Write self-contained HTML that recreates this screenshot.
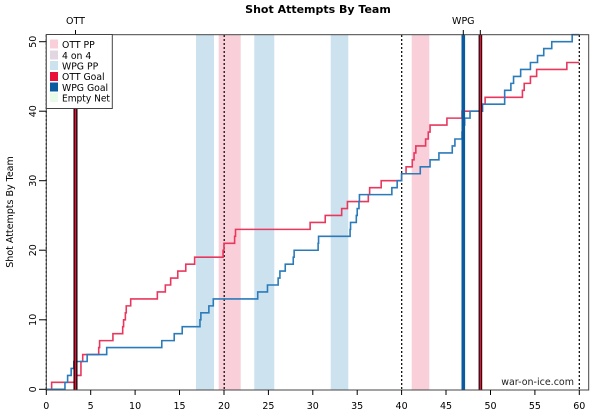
<!DOCTYPE html>
<html><head><meta charset="utf-8"><style>
body{margin:0;background:#fff;width:600px;height:414px;overflow:hidden;font-family:"DejaVu Sans","Liberation Sans",sans-serif}
</style></head><body>
<svg width="600" height="414" xmlns="http://www.w3.org/2000/svg" font-family="DejaVu Sans, Liberation Sans, sans-serif">
<text x="318" y="13" font-size="11" font-weight="bold" text-anchor="middle">Shot Attempts By Team</text>
<rect x="196" y="35" width="18" height="355" fill="#cce2ef"/>
<rect x="254.3" y="35" width="20" height="355" fill="#cce2ef"/>
<rect x="330.7" y="35" width="17.6" height="355" fill="#cce2ef"/>
<rect x="218.7" y="35" width="22" height="355" fill="#f9d0d9"/>
<rect x="411.7" y="35" width="17.6" height="355" fill="#f9d0d9"/>
<g stroke="#000" stroke-width="1.2" stroke-dasharray="2,2">
<line x1="46.3" y1="35" x2="46.3" y2="390"/>
<line x1="224.2" y1="35" x2="224.2" y2="390"/>
<line x1="401.7" y1="35" x2="401.7" y2="390"/>
<line x1="579.3" y1="35" x2="579.3" y2="390"/>
</g>
<g transform="translate(46.3,389.3) scale(8.883,-6.953)" fill="none" stroke-width="1.6">
<path vector-effect="non-scaling-stroke" stroke="#e8385e" d="M0 0 H0.6 V1 H3.3 V2 H3.9 V4 H4.1 V5 H5.9 V6 H6.0 V7 H7.5 V8 H8.6 V9 H8.7 V10 H8.9 V11 H9.0 V12 H9.5 V13 H12.5 V14 H13.4 V15 H14.0 V16 H14.8 V17 H15.7 V18 H16.7 V19 H19.9 V20 H20.0 V21 H21.2 V22 H21.3 V23 H29.7 V24 H31.4 V25 H33.25 V26 H33.9 V27 H36.25 V28 H36.4 V29 H37.7 V30 H40.0 V31 H40.5 V32 H41.2 V33 H41.4 V34 H41.6 V35 H42.7 V36 H43.0 V37 H43.2 V38 H45.1 V39 H46.8 V40 H49.1 V41 H49.4 V42 H53.6 V43 H53.8 V44 H54.5 V45 H55.2 V46 H58.6 V47 H60"/>
<path vector-effect="non-scaling-stroke" stroke="#2b7bba" d="M0 0 H2.1 V1 H2.4 V2 H2.8 V3 H3.1 V4 H4.6 V5 H6.8 V6 H13.0 V7 H14.4 V8 H15.3 V9 H17.3 V10 H17.4 V11 H18.3 V12 H18.8 V13 H23.8 V14 H24.9 V15 H26.1 V16 H26.3 V17 H26.9 V18 H27.8 V19 H27.9 V20 H30.6 V21 H30.65 V22 H34.2 V23 H34.25 V24 H34.9 V25 H35.0 V26 H35.2 V27 H35.25 V28 H38.9 V29 H39.5 V30 H40.0 V31 H42.1 V32 H43.2 V33 H44.2 V34 H45.7 V35 H46.0 V36 H46.8 V37 H46.9 V38 H47.1 V39 H47.7 V40 H49.1 V41 H51.6 V43 H52.3 V44 H52.6 V45 H53.4 V46 H54.5 V47 H55.3 V48 H56.0 V49 H56.9 V50 H59.2 V51 H60"/>
</g>
<rect x="73.5" y="35" width="4" height="355" fill="#000"/>
<rect x="74.7" y="35" width="1.6" height="355" fill="#e8103a"/>
<rect x="461.5" y="35" width="3.6" height="355" fill="#0a5aa0"/>
<rect x="478.6" y="35" width="3.6" height="355" fill="#000"/>
<rect x="479.6" y="35" width="1.6" height="355" fill="#e8103a"/>
<rect x="46.3" y="34.7" width="542.4" height="355.3" fill="none" stroke="#444" stroke-width="1"/>
<line x1="75.5" y1="30" x2="75.5" y2="35" stroke="#000"/>
<line x1="463.3" y1="30" x2="463.3" y2="35" stroke="#000"/>
<line x1="480.3" y1="30" x2="480.3" y2="35" stroke="#000"/>
<text x="75.5" y="24" font-size="9.5" text-anchor="middle">OTT</text>
<text x="463.3" y="24" font-size="9.5" text-anchor="middle">WPG</text>
<rect x="46.3" y="34.5" width="66" height="74" fill="#fff" stroke="#444"/>
<g font-size="9.3">
<rect x="50" y="39.5" width="8" height="9" fill="#f9d0d9"/><text x="62" y="48">OTT PP</text>
<rect x="50" y="50.5" width="8" height="9" fill="#e3d6e3"/><text x="62" y="59">4 on 4</text>
<rect x="50" y="61" width="8" height="9" fill="#cce2ef"/><text x="62" y="69.5">WPG PP</text>
<rect x="50" y="72" width="8" height="9" fill="#e8103a"/><text x="62" y="80">OTT Goal</text>
<rect x="50" y="82.5" width="8" height="9" fill="#0a5aa0"/><text x="62" y="91">WPG Goal</text>
<rect x="50" y="93" width="8" height="9" fill="#e8fbe8"/><text x="62" y="101.5" textLength="48" lengthAdjust="spacingAndGlyphs">Empty Net</text>
</g>
<text x="574" y="385" font-size="9.5" text-anchor="end" fill="#222">war-on-ice.com</text>
<g stroke="#000">
<line x1="39" y1="389.3" x2="46.3" y2="389.3"/>
<line x1="39" y1="319.8" x2="46.3" y2="319.8"/>
<line x1="39" y1="250.2" x2="46.3" y2="250.2"/>
<line x1="39" y1="180.7" x2="46.3" y2="180.7"/>
<line x1="39" y1="111.2" x2="46.3" y2="111.2"/>
<line x1="39" y1="41.7" x2="46.3" y2="41.7"/>
</g>
<g font-size="9.5" text-anchor="middle">
<text transform="translate(36,389.3) rotate(-90)">0</text>
<text transform="translate(36,319.8) rotate(-90)">10</text>
<text transform="translate(36,250.2) rotate(-90)">20</text>
<text transform="translate(36,180.7) rotate(-90)">30</text>
<text transform="translate(36,111.2) rotate(-90)">40</text>
<text transform="translate(36,41.7) rotate(-90)">50</text>
<text transform="translate(13,212) rotate(-90)">Shot Attempts By Team</text>
</g>
<g stroke="#000">
<line x1="46.3" y1="390" x2="46.3" y2="395"/><line x1="90.7" y1="390" x2="90.7" y2="395"/>
<line x1="135.1" y1="390" x2="135.1" y2="395"/><line x1="179.5" y1="390" x2="179.5" y2="395"/>
<line x1="224" y1="390" x2="224" y2="395"/><line x1="268.4" y1="390" x2="268.4" y2="395"/>
<line x1="312.8" y1="390" x2="312.8" y2="395"/><line x1="357.2" y1="390" x2="357.2" y2="395"/>
<line x1="401.6" y1="390" x2="401.6" y2="395"/><line x1="446" y1="390" x2="446" y2="395"/>
<line x1="490.5" y1="390" x2="490.5" y2="395"/><line x1="534.9" y1="390" x2="534.9" y2="395"/>
<line x1="579.3" y1="390" x2="579.3" y2="395"/>
</g>
<g font-size="9.5" text-anchor="middle">
<text x="46.3" y="409">0</text><text x="90.7" y="409">5</text><text x="135.1" y="409">10</text>
<text x="179.5" y="409">15</text><text x="224" y="409">20</text><text x="268.4" y="409">25</text>
<text x="312.8" y="409">30</text><text x="357.2" y="409">35</text><text x="401.6" y="409">40</text>
<text x="446" y="409">45</text><text x="490.5" y="409">50</text><text x="534.9" y="409">55</text>
<text x="579.3" y="409">60</text>
</g>
</svg>
</body></html>
